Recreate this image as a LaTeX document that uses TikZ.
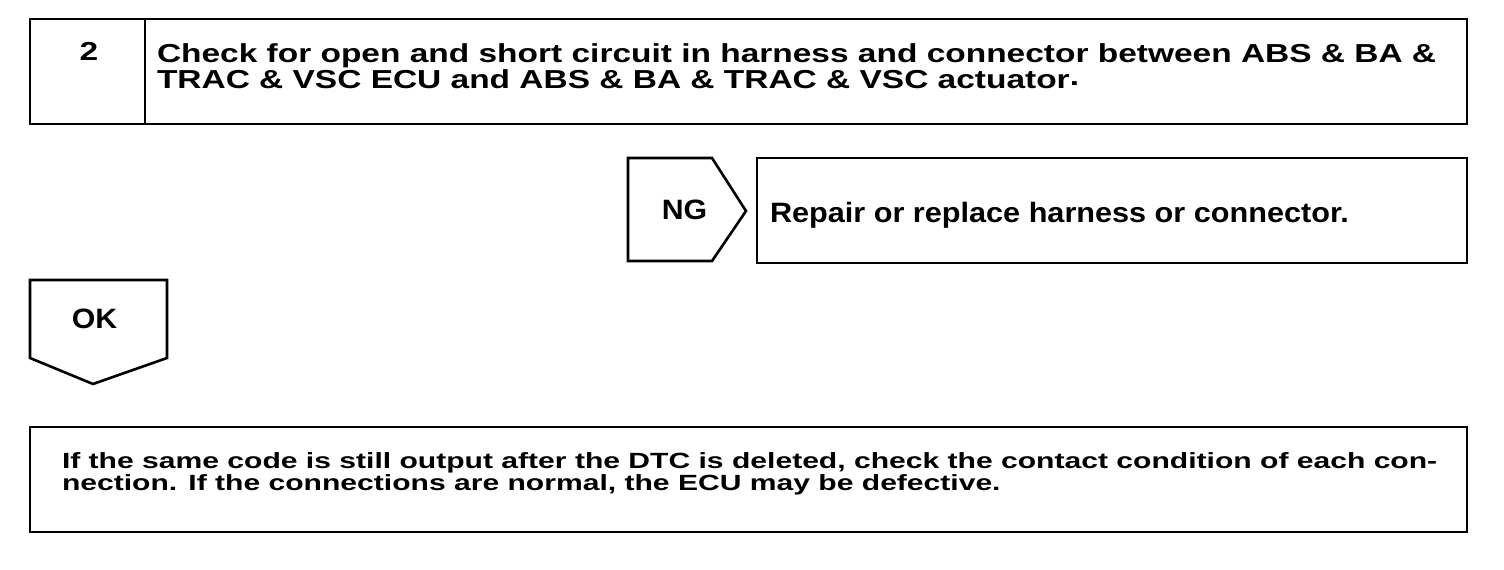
\documentclass[tikz,border=0pt]{standalone}
\usepackage{fontspec}
\setmainfont{Liberation Sans}
\newfontfamily\topfnt[FakeStretch=1.287]{Liberation Sans}
\newfontfamily\repfnt[FakeStretch=1.094]{Liberation Sans}
\newfontfamily\lblfnt[FakeStretch=1.08]{Liberation Sans}
\newfontfamily\notefnt[FakeStretch=1.367]{Liberation Sans}
\lineskiplimit=-30pt\relax
\begin{document}
\begin{tikzpicture}[x=1pt,y=-1pt,
  frame/.style={draw=black,line width=2.6pt,line join=miter},
  toptxt/.style={inner sep=0pt,outer sep=0pt,font=\topfnt\bfseries\fontsize{26}{26}\selectfont},
  reptxt/.style={inner sep=0pt,outer sep=0pt,font=\repfnt\bfseries\fontsize{28}{30}\selectfont},
  lbltxt/.style={inner sep=0pt,outer sep=0pt,font=\lblfnt\bfseries\fontsize{28}{30}\selectfont},
  notetxt/.style={inner sep=0pt,outer sep=0pt,font=\notefnt\bfseries\fontsize{22}{22}\selectfont}]
\useasboundingbox[fill=white] (0,0) rectangle (1504,570);
% top step box
\draw[frame] (30,19) rectangle (1467,124);
\draw[frame] (145,19) -- (145,124);
\node[toptxt,anchor=base] (num) at (89,60) {2};
\node[toptxt,anchor=base west,align=left] (check) at (157,88) {Check for open and short circuit in harness and connector between ABS \& BA \&\\TRAC \& VSC ECU and ABS \& BA \& TRAC \& VSC actuator\raisebox{3pt}{.}};
% NG
\draw[frame] (628,158) -- (712,158) -- (746,211) -- (712,261) -- (628,261) -- cycle;
\node[lbltxt,anchor=base] (ng) at (684.5,219) {NG};
\draw[frame] (757,158) rectangle (1467,263);
\node[reptxt,anchor=base west] (repair) at (770,222) {Repair or replace harness or connector.};
% OK
\draw[frame] (30,280) -- (167,280) -- (167,358) -- (93,384) -- (30,358) -- cycle;
\node[lbltxt,anchor=base] (ok) at (94.5,328) {OK};
% bottom box
\draw[frame] (30,427) rectangle (1467,532);
\node[notetxt,anchor=base west,align=left] (note) at (62,490) {If the same code is still output after the DTC is deleted, check the contact condition of each con-\\nection. If the connections are normal, the ECU may be defective.};
\end{tikzpicture}
\end{document}
